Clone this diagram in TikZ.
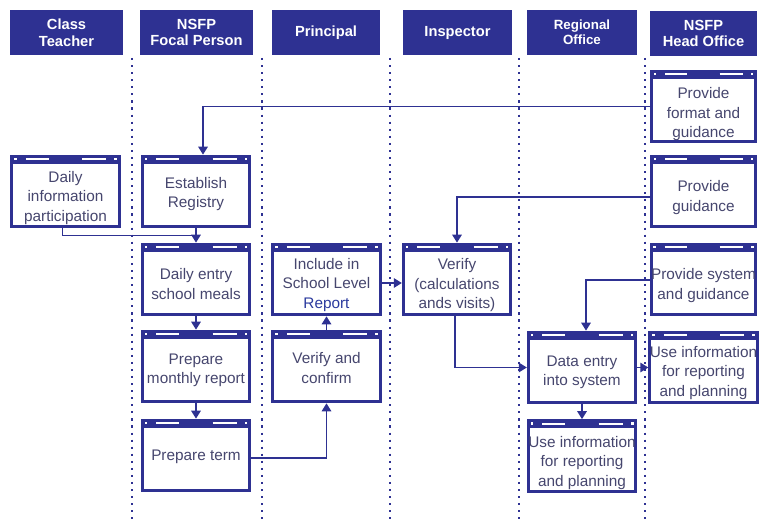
\documentclass[tikz,border=0pt]{standalone}
\usepackage{fontspec}
\setmainfont{Liberation Sans}
\usetikzlibrary{arrows.meta,calc}
\definecolor{navy}{HTML}{2E3192}
\definecolor{txt}{HTML}{46466E}
\definecolor{rep}{HTML}{2B3A9E}
\newcommand\wintext[2]{\raisebox{-#1}[\height][\depth]{\begin{tabular}{@{}c@{}}#2\end{tabular}}}
\begin{document}
\begin{tikzpicture}[x=0.75pt,y=-0.75pt,
  hdr/.style={fill=navy, text=white, font=\bfseries\fontsize{11}{12.5}\selectfont, align=center, inner sep=0pt, minimum height=33.75pt},
  winbox/.style={draw=navy, line width=2.2pt, fill=white, text=txt, font=\fontsize{11.5}{14.6}\selectfont, inner sep=0pt, minimum width=80.5pt, minimum height=53pt},
  lane/.style={navy, line width=1.7pt, dash pattern=on 1.6pt off 3.7pt},
  conn/.style={navy, line width=1.4pt, -{Triangle[width=7pt,length=6pt]}},
  link/.style={navy, line width=1.4pt},
]
\useasboundingbox (0,0) rectangle (760,523);
% swimlane separators
\foreach \lx in {132,262,390,519,645} {
  \draw[lane] (\lx,58) -- (\lx,523);
}
% headers
\node[hdr, minimum width=84.75pt] (h1) at (66.5,32.5) {Class\\Teacher};
\node[hdr, minimum width=84.75pt] (h2) at (196.5,32.5) {NSFP\\Focal Person};
\node[hdr, minimum width=81pt] (h3) at (326,32.5) {Principal};
\node[hdr, minimum width=81.75pt] (h4) at (457.5,32.5) {Inspector};
\node[hdr, minimum width=82.5pt, font=\bfseries\fontsize{10}{11.5}\selectfont] (h5) at (582,32.5) {Regional\\Office};
\node[hdr, minimum width=80.25pt] (h6) at (703.5,33.5) {NSFP\\Head Office};
% process boxes
\node[winbox] (dip) at (65.5,191.5) {\wintext{4.9pt}{Daily\\information\\participation}};
\node[winbox] (reg) at (196,191.5) {\wintext{2.1pt}{Establish\\Registry}};
\node[winbox] (de) at (196,279.5) {\wintext{4.5pt}{Daily entry\\school meals}};
\node[winbox] (pm) at (196,366.5) {\wintext{2.7pt}{Prepare\\monthly report}};
\node[winbox] (pt) at (196,455.5) {\wintext{0.8pt}{Prepare term}};
\node[winbox] (inc) at (326.5,279.5) {\wintext{4.2pt}{Include in\\School Level\\\textcolor{rep}{Report}}};
\node[winbox] (vc) at (326.5,366.5) {\wintext{2.3pt}{Verify and\\confirm}};
\node[winbox] (ver) at (457,279.5) {\wintext{4.5pt}{Verify\\(calculations\\ands visits)}};
\node[winbox] (den) at (582,367.5) {\wintext{3.4pt}{Data entry\\into system}};
\node[winbox] (ui5) at (582,456) {\wintext{5.3pt}{Use information\\for reporting\\and planning}};
\node[winbox, minimum width=78pt] (pf) at (703.5,106.5) {\wintext{6pt}{Provide\\format and\\guidance}};
\node[winbox, minimum width=78pt] (pg) at (703.5,191.5) {\wintext{4.5pt}{Provide\\guidance}};
\node[winbox, minimum width=78pt] (psg) at (703.5,279.5) {\wintext{4.5pt}{Provide system\\and guidance}};
\node[winbox, minimum width=78pt] (ui6) at (703.5,367.5) {\wintext{4.2pt}{Use information\\for reporting\\and planning}};
% window title strips
\foreach \n in {dip,reg,de,pm,pt,inc,vc,ver,den,ui5,pf,pg,psg,ui6} {
  \fill[navy] (\n.north west) rectangle ($(\n.north east)+(0,9)$);
  \draw[white, line width=1.5pt] ($(\n.north west)!0.14!(\n.north east)+(0,4.5)$) -- ($(\n.north west)!0.35!(\n.north east)+(0,4.5)$);
  \draw[white, line width=1.5pt] ($(\n.north west)!0.65!(\n.north east)+(0,4.5)$) -- ($(\n.north west)!0.87!(\n.north east)+(0,4.5)$);
  \fill[white] ($(\n.north west)!0.045!(\n.north east)+(-1.3,3.2)$) rectangle ++(2.6,2.6);
  \fill[white] ($(\n.north west)!0.955!(\n.north east)+(-1.3,3.2)$) rectangle ++(2.6,2.6);
}
% connectors
\draw[conn] (pf.west) -| ($(reg.north)+(7,0)$);
\draw[conn] (reg.south) -- (de.north);
\coordinate (j) at ($(reg.south)!0.5!(de.north)$);
\draw[link] ($(dip.south)+(-3,0)$) |- (j);
\draw[conn] (de.south) -- (pm.north);
\draw[conn] (pm.south) -- (pt.north);
\draw[conn] ($(pt.east)+(0,2.5)$) -| (vc.south);
\draw[conn] (vc.north) -- (inc.south);
\draw[conn] ($(inc.east)+(0,3.5)$) -- ($(ver.west)+(0,3.5)$);
\draw[conn] ($(pg.west)+(0,5.5)$) -| (ver.north);
\draw[conn] ($(ver.south)+(-2,0)$) |- (den.west);
\draw[conn] ($(psg.west)+(0,0.5)$) -| ($(den.north)+(4,0)$);
\draw[conn] (den.east) -- (ui6.west);
\draw[conn] (den.south) -- (ui5.north);
\end{tikzpicture}
\end{document}
